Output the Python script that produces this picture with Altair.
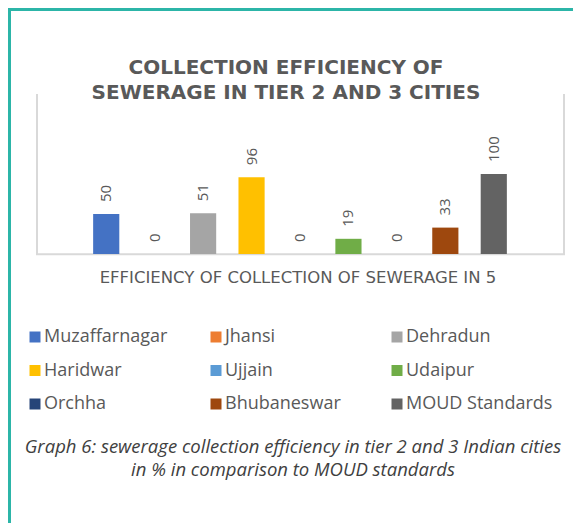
import altair as alt
import pandas as pd

cities = ["Muzaffarnagar", "Jhansi", "Dehradun", "Haridwar", "Ujjain",
          "Udaipur", "Orchha", "Bhubaneswar", "MOUD Standards"]
efficiency = [50, 0, 51, 96, 0, 19, 0, 33, 100]
colors = ["#4472C4", "#ED7D31", "#A5A5A5", "#FFC000", "#5B9BD5",
          "#70AD47", "#264478", "#9E480E", "#636363"]

title_lines = ["COLLECTION EFFICIENCY OF", "SEWERAGE IN TIER 2 AND 3 CITIES"]
category_label = "EFFICIENCY OF COLLECTION OF SEWERAGE IN 5"
caption_lines = ["Graph 6: sewerage collection efficiency in tier 2 and 3 Indian cities",
                 "in % in comparison to MOUD standards"]

df = pd.DataFrame({"city": cities, "value": efficiency})

W, H = 565, 515
TEAL = "#2CB5A8"
GRID = "#D9D9D9"
TXT = "#595959"

x_scale = alt.Scale(domain=cities, range=[74, 510], paddingInner=0.46, paddingOuter=0.23)
y_scale = alt.Scale(domain=[0, 100], range=[246, 166])

one = alt.Data(values=[{"a": 1}])

bars = alt.Chart(df).mark_bar().encode(
    x=alt.X("city:N", scale=x_scale, axis=None, sort=cities),
    y=alt.Y("value:Q", scale=y_scale, axis=None),
    color=alt.Color("city:N", sort=cities,
                    scale=alt.Scale(domain=cities, range=colors),
                    legend=alt.Legend(title=None, orient="none", columns=3,
                                      direction="horizontal",
                                      legendX=18, legendY=320,
                                      symbolType="square", symbolSize=121,
                                      symbolStrokeWidth=0,
                                      labelFont="Open Sans", labelFontSize=18,
                                      labelColor=TXT, labelOffset=0,
                                      gridAlign="all", columnPadding=16,
                                      rowPadding=15.5, labelLimit=300)),
)

labels = alt.Chart(df).mark_text(
    angle=270, align="left", baseline="middle", dx=12,
    font="Open Sans", fontSize=15, color=TXT
).encode(
    x=alt.X("city:N", scale=x_scale, axis=None, sort=cities),
    y=alt.Y("value:Q", scale=y_scale, axis=None),
    text=alt.Text("value:Q"),
)

# plot-area frame (left, right, bottom)
frame_l = alt.Chart(one).mark_rule(color=GRID, strokeWidth=2).encode(
    x=alt.value(29), y=alt.value(86), y2=alt.value(247))
frame_r = alt.Chart(one).mark_rule(color=GRID, strokeWidth=2).encode(
    x=alt.value(556), y=alt.value(86), y2=alt.value(247))
frame_b = alt.Chart(one).mark_rule(color=GRID, strokeWidth=2).encode(
    x=alt.value(28), x2=alt.value(557), y=alt.value(246.3))

# teal page border (top, left)
teal_t = alt.Chart(one).mark_rule(color=TEAL, strokeWidth=3).encode(
    x=alt.value(0), x2=alt.value(W), y=alt.value(1.5))
teal_l = alt.Chart(one).mark_rule(color=TEAL, strokeWidth=3).encode(
    x=alt.value(1.5), y=alt.value(0), y2=alt.value(H))

title = alt.Chart(one).mark_text(
    font="DejaVu Sans", fontSize=20, fontWeight="bold", color=TXT,
    align="center", baseline="alphabetic", lineHeight=25
).encode(x=alt.value(278), y=alt.value(66), text=alt.value(title_lines))

cat = alt.Chart(one).mark_text(
    font="DejaVu Sans", fontSize=16.5, color=TXT, align="center", baseline="middle"
).encode(x=alt.value(290), y=alt.value(270), text=alt.value(category_label))

caption = alt.Chart(one).mark_text(
    font="Open Sans", fontSize=18.5, fontStyle="italic", color="#404040",
    align="center", baseline="alphabetic", lineHeight=23
).encode(x=alt.value(285), y=alt.value(445), text=alt.value(caption_lines))

chart = alt.layer(
    teal_t, teal_l, frame_l, frame_r, frame_b, bars, labels, title, cat, caption
).properties(
    width=W, height=H, autosize=alt.AutoSizeParams(type="none"), padding=0
).configure_view(stroke=None).configure(background="white")

chart.save("out.html", embed_options={"renderer": "svg", "actions": False})
